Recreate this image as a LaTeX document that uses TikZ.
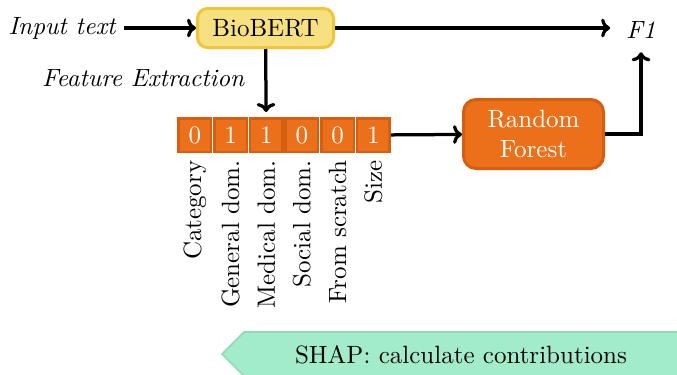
\documentclass[tikz,border=0pt]{standalone}
\usetikzlibrary{positioning,arrows.meta}

\definecolor{bertfill}{HTML}{F6E07F}
\definecolor{bertdraw}{HTML}{F0C53A}
\definecolor{rffill}{HTML}{EC7019}
\definecolor{rfdraw}{HTML}{D65E10}
\definecolor{shapfill}{HTML}{A3ECC9}
\definecolor{shapdraw}{HTML}{8EDDB8}

\begin{document}
\begin{tikzpicture}[x=0.40pt,y=-0.40pt,> = {To[length=3.6pt,width=7.5pt]},
		flow/.style={->, line width=1.3pt},
		bertbox/.style={draw=bertdraw, fill=bertfill, line width=1.2pt, rounded corners=4pt,
			minimum width=54.4pt, minimum height=15.6pt},
		rfbox/.style={draw=rfdraw, fill=rffill, text=white, line width=1.2pt, rounded corners=5pt,
			minimum width=56pt, minimum height=27.6pt, align=center, inner sep=1pt},
		cell/.style={draw=rfdraw, fill=rffill, text=white, line width=1pt,
			minimum width=13pt, minimum height=13.4pt, inner sep=0pt},
		featlabel/.style={rotate=90, anchor=east, inner sep=0pt}]
		\useasboundingbox (0,0) rectangle (677,374);
		% top row
		\node[font=\itshape] (input) at (62,28) {Input text};
		\node[bertbox] (bert) at (265.5,28) {BioBERT};
		\node[font=\itshape] (f1) at (641,30) {F1};
		\node[font=\itshape, anchor=east] (feat) at (253,78) {Feature Extraction};
		% feature vector
		\foreach \v [count=\i] in {0,1,1,0,0,1}
			\node[cell] (c\i) at ({177+35.7*(\i-0.5)},135) {\v};
		\foreach \t [count=\i] in {Category,General dom.,Medical dom.,Social dom.,From scratch,Size}
			\node[featlabel] (l\i) at ({177+35.7*(\i-0.5)},160) {\t};
		\node[rfbox] (rf) at (533.5,134) {Random\\Forest};
		% connectors
		\draw[flow] (input) -- (bert);
		\draw[flow, shorten >=3pt] (bert.east) -- (bert.east -| f1.west);
		\draw[flow, shorten >=2pt] (bert) -- (c3);
		\draw[flow] (c6) -- (rf);
		\draw[flow, shorten >=2pt] (rf.east) -| (f1.south);
		% SHAP banner
		\draw[draw=shapdraw, fill=shapfill, line width=0.7pt]
			(222,354)--(244,332)--(700,332)--(700,376)--(244,376)--cycle;
		\node (shap) at (461,355) {SHAP: calculate contributions};
	\end{tikzpicture}
\end{document}
